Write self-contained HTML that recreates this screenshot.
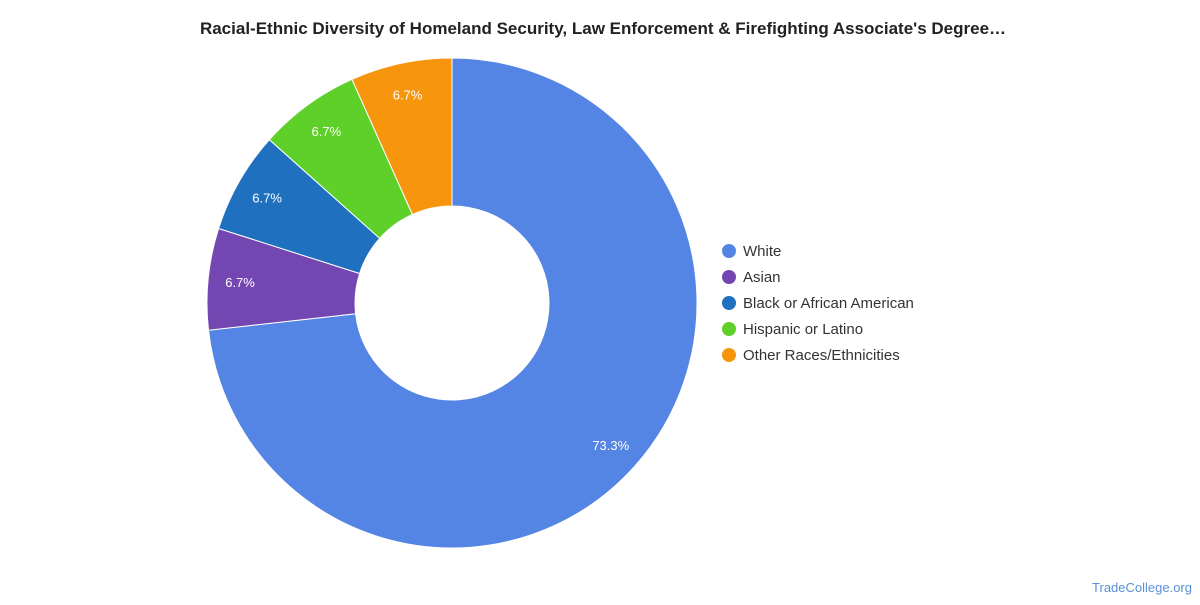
<!DOCTYPE html>
<html><head><meta charset="utf-8"><style>
body{margin:0;width:1200px;height:600px;background:#fff;font-family:"Liberation Sans",sans-serif;overflow:hidden}
</style></head><body>
<svg width="1200" height="600">
<text x="603" y="34" text-anchor="middle" font-size="17" font-weight="bold" fill="#222">Racial-Ethnic Diversity of Homeland Security, Law Enforcement &amp; Firefighting Associate's Degree…</text>
<g id="slices"></g><g id="labels"></g><g id="legend"></g>
<text x="1192" y="592" text-anchor="end" font-size="13" fill="#5a8fd6">TradeCollege.org</text>
</svg>
<script>
const categories=["White","Asian","Black or African American","Hispanic or Latino","Other Races/Ethnicities"];
const values=[73.3,6.7,6.7,6.7,6.7];
const colors=["#5485e4","#7446b1","#1f70be","#5fcf29","#f7950d"];
const cx=452,cy=303,R=245,r=97,LR=213;
const NS="http://www.w3.org/2000/svg";
const total=values.reduce((a,b)=>a+b,0);
function pt(a,rad){return [cx+rad*Math.sin(a),cy-rad*Math.cos(a)];}
let a0=0;
const sg=document.getElementById('slices'),lg=document.getElementById('labels'),leg=document.getElementById('legend');
values.forEach((v,i)=>{
 const a1=a0+v/total*2*Math.PI,large=(a1-a0)>Math.PI?1:0;
 const [x0,y0]=pt(a0,R),[x1,y1]=pt(a1,R),[x2,y2]=pt(a1,r),[x3,y3]=pt(a0,r);
 const p=document.createElementNS(NS,'path');
 p.setAttribute('d',`M${x0},${y0}A${R},${R} 0 ${large} 1 ${x1},${y1}L${x2},${y2}A${r},${r} 0 ${large} 0 ${x3},${y3}Z`);
 p.setAttribute('fill',colors[i]);p.setAttribute('stroke','#fff');p.setAttribute('stroke-width','1');
 
 
 sg.appendChild(p);
 const [lx,ly]=pt((a0+a1)/2,LR);
 const t=document.createElementNS(NS,'text');
 t.setAttribute('x',lx);t.setAttribute('y',ly+5);t.setAttribute('text-anchor','middle');
 t.setAttribute('font-size','13');t.setAttribute('fill','#fff');t.textContent=v.toFixed(1)+'%';
 
 
 lg.appendChild(t);
 const c=document.createElementNS(NS,'circle');
 c.setAttribute('cx',729);c.setAttribute('cy',251+i*26);c.setAttribute('r',7);c.setAttribute('fill',colors[i]);
 
 
 leg.appendChild(c);
 const lt=document.createElementNS(NS,'text');
 lt.setAttribute('x',743);lt.setAttribute('y',256+i*26);lt.setAttribute('font-size','15');lt.setAttribute('fill','#333');
 lt.textContent=categories[i];
 
 
 leg.appendChild(lt);
 a0=a1;
});
</script>
</body></html>
